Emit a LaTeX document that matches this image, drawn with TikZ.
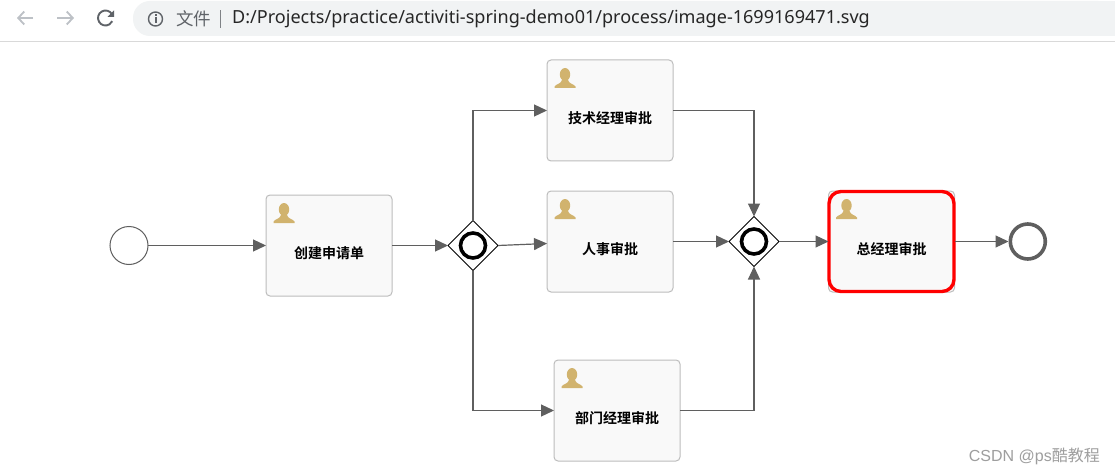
\documentclass[tikz,border=0pt]{standalone}
\usepackage{fontspec}
\setmainfont{Liberation Sans}
\newfontfamily\cjk{Noto Sans CJK SC}
\newfontfamily\cjkbold{Noto Sans CJK SC Bold}
\newfontfamily\uifont{Noto Sans}
\usepackage{xcolor}
\usetikzlibrary{arrows.meta, positioning, shapes.geometric}
\definecolor{flowgray}{HTML}{5F5F5F}
\definecolor{boxgray}{HTML}{BDBDBD}
\definecolor{boxfill}{HTML}{F9F9F9}
\definecolor{usertan}{HTML}{D1B36E}
\definecolor{navgray}{HTML}{BDC1C6}
\definecolor{pillgray}{HTML}{F1F3F4}
\definecolor{chromegray}{HTML}{5F6368}

\begin{document}
\begin{tikzpicture}[
  x=1pt, y=-1pt,
  taskbox/.style={rectangle, draw=boxgray, fill=boxfill, line width=1pt, rounded corners=4pt,
    minimum width=126pt, minimum height=101pt, inner sep=0pt, outer sep=0pt},
  tasktext/.style={inner sep=0pt, font=\fontsize{14}{16}\selectfont\cjkbold, text=black},
  gatebox/.style={diamond, draw=black, fill=white, line width=1pt, minimum width=50pt,
    minimum height=50pt, inner sep=0pt, outer sep=0pt},
  gatering/.style={circle, draw=black, line width=3.6pt, minimum size=25pt, inner sep=0pt},
  startevent/.style={circle, draw=flowgray, fill=white, line width=1pt, minimum size=38pt,
    inner sep=0pt, outer sep=0pt},
  endevent/.style={circle, draw=flowgray, fill=white, line width=3.6pt, minimum size=35pt,
    inner sep=0pt, outer sep=1.8pt},
  arr/.style={-{Triangle[length=13pt, width=12pt]}, draw=flowgray, line width=1.2pt},
  navarr/.style={-{Straight Barb[length=6pt, width=13pt]}, draw=navgray, line width=1.8pt},
  usericon/.pic={
    \fill[usertan] (0,-4.5) ellipse (5.2 and 6.5);
    \fill[usertan] (-10.5,9) -- (-10.5,7.5) .. controls (-9,5) and (-4,5) .. (-3,1)
      -- (3,1) .. controls (4,5) and (9,5) .. (10.5,7.5) -- (10.5,9) -- cycle;
  }
]
\useasboundingbox (0,0) rectangle (1115,473);
\fill[white] (0,0) rectangle (1115,473);

% browser bar
\fill[pillgray, rounded corners=17pt] (133,1) rectangle (1115,36);
\fill[pillgray] (1090,1) rectangle (1115,36);
\draw[line width=0.8pt, black!15] (0,41.5) -- (1115,41.5);
\coordinate (backtail) at (33,18);
\coordinate (backtip) at (17,18);
\coordinate (nexttail) at (57,18);
\coordinate (nexttip) at (74,18);
\draw[navarr] (backtail) -- (backtip);
\draw[navarr] (nexttail) -- (nexttip);
\draw[chromegray, line width=1.9pt] (112,14.25) arc (-30:-335:7.5);
\fill[chromegray] (114,10.5) -- (114,17) -- (107.5,17) -- cycle;
\draw[chromegray, line width=1.4pt] (155.5,19) circle (7);
\fill[chromegray] (154.5,17.5) rectangle (156.5,23);
\fill[chromegray] (154.5,14.5) rectangle (156.5,16.3);
\node[anchor=west, inner sep=0pt, text=chromegray, font=\fontsize{17.5}{19}\selectfont\cjk] (filetag) at (176,18.5) {文件};
\fill[chromegray!80] (219.5,10) rectangle (220.5,28);
\node[anchor=west, inner sep=0pt, text=black!85, font=\fontsize{18.05}{20}\selectfont\uifont] (urltext) at (232,18.5)
  {D:/Projects/practice/activiti-spring-demo01/process/image-1699169471.svg};

% process
\node[taskbox] (create) at (329,245.5) {};
\node[startevent, left=118pt of create] (start) {};
\node[gatebox, right=56pt of create] (fork) {};
\node[gatering] (forkring) at (fork.center) {};
\node[taskbox, right=49pt of fork, yshift=4pt] (hr) {};
\node[taskbox, above=30pt of hr] (tech) {};
\node[taskbox, below=68pt of hr, xshift=7pt] (dept) {};
\node[gatebox, right=56pt of hr] (join) {};
\node[gatering] (joinring) at (join.center) {};
\node[taskbox, right=49.5pt of join] (final) {};
\node[endevent, right=54pt of final] (finish) {};

\node[tasktext] (createtext) at ([yshift=-8pt]create.center) {创建申请单};
\node[tasktext] (techtext) at ([yshift=-8pt]tech.center) {技术经理审批};
\node[tasktext] (hrtext) at ([yshift=-8pt]hr.center) {人事审批};
\node[tasktext] (depttext) at ([yshift=-8pt]dept.center) {部门经理审批};
\node[tasktext] (finaltext) at ([yshift=-8pt]final.center) {总经理审批};

\foreach \t in {create, tech, hr, dept, final}
  \pic at ([shift={(18pt,-19pt)}]\t.north west) {usericon};

\draw[red, line width=3.4pt, rounded corners=12pt]
  ([shift={(0.5pt,-0.5pt)}]final.north west) rectangle ([shift={(-0.5pt,0.5pt)}]final.south east);

\draw[arr] (start) -- (create);
\draw[arr] (create) -- (fork);
\draw[arr] (fork.north) |- (tech.west);
\draw[arr] (fork.east) -- ([yshift=-2pt]hr.west);
\draw[arr] (fork.south) |- (dept.west);
\draw[arr] (tech.east) -| (join.north);
\draw[arr] (hr) -- (join);
\draw[arr] (dept.east) -| (join.south);
\draw[arr] (join) -- (final);
\draw[arr] (final) -- (finish);

% watermark
\node[anchor=east, inner sep=0pt, text=black!38, font=\fontsize{16}{18}\selectfont] (mark) at (1100,456)
  {CSDN @ps{\cjk 酷教程}};
\end{tikzpicture}
\end{document}
